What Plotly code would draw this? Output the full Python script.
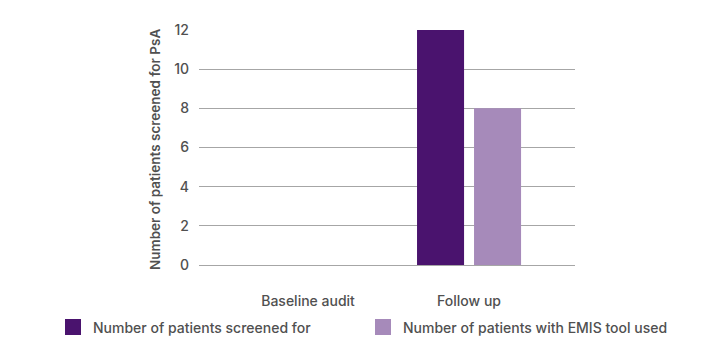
import plotly.graph_objects as go

categories = ["Baseline audit", "Follow up"]
screened = [0, 12]
emis_used = [0, 8]
series_names = ["Number of patients screened for", "Number of patients with EMIS tool used"]
series_colors = ["#4a136e", "#a68aba"]
y_ticks = [0, 2, 4, 6, 8, 10, 12]
y_title = "Number of patients screened for PsA"

text_color = "#505050"
font_family = "Inter, Roboto, sans-serif"

fig = go.Figure()
for vals, name, color, lg in zip([screened, emis_used], series_names, series_colors,
                                 ["legend", "legend2"]):
    fig.add_trace(go.Bar(x=categories, y=vals, name=name, showlegend=False,
                         marker=dict(color=color, line=dict(width=0))))
    # legend-only entry (no data) so the legend swatch can be larger
    fig.add_trace(go.Scatter(x=[None], y=[None], mode="markers", name=name, legend=lg,
                             marker=dict(symbol="square", size=16, color=color,
                                         line=dict(width=0))))

legend_font = dict(size=14, weight=500, color=text_color)
fig.update_layout(
    width=720, height=360,
    margin=dict(l=191, r=153, t=22, b=103, autoexpand=False),
    paper_bgcolor="white", plot_bgcolor="white",
    barmode="group", bargap=0.292, bargroupgap=0.175,
    font=dict(family=font_family, color=text_color, size=13),
    showlegend=True,
    legend=dict(xref="container", yref="container", x=45 / 720, y=40.5 / 360,
                xanchor="left", yanchor="middle", font=legend_font),
    legend2=dict(xref="container", yref="container", x=355 / 720, y=40.5 / 360,
                 xanchor="left", yanchor="middle", font=legend_font),
    xaxis=dict(range=[-0.677, 1.658], showgrid=False, zeroline=False,
               showline=False, ticks="", ticklabelstandoff=26,
               tickfont=dict(size=14, weight=500, color=text_color)),
    yaxis=dict(range=[0, 12], tickvals=y_ticks, showgrid=True,
               gridcolor="#a6a6a6", gridwidth=1, zeroline=True,
               zerolinecolor="#a6a6a6", zerolinewidth=1, showline=False,
               ticks="", ticklabelstandoff=9,
               tickfont=dict(size=14, weight=500, color=text_color)),
    annotations=[dict(text=y_title, xref="paper", yref="paper", x=0, y=0.5,
                      xanchor="center", yanchor="middle", xshift=-44, yshift=-2.5,
                      textangle=-90, showarrow=False,
                      font=dict(size=13.5, weight=600, color=text_color))],
)

fig.write_html("out.html")
